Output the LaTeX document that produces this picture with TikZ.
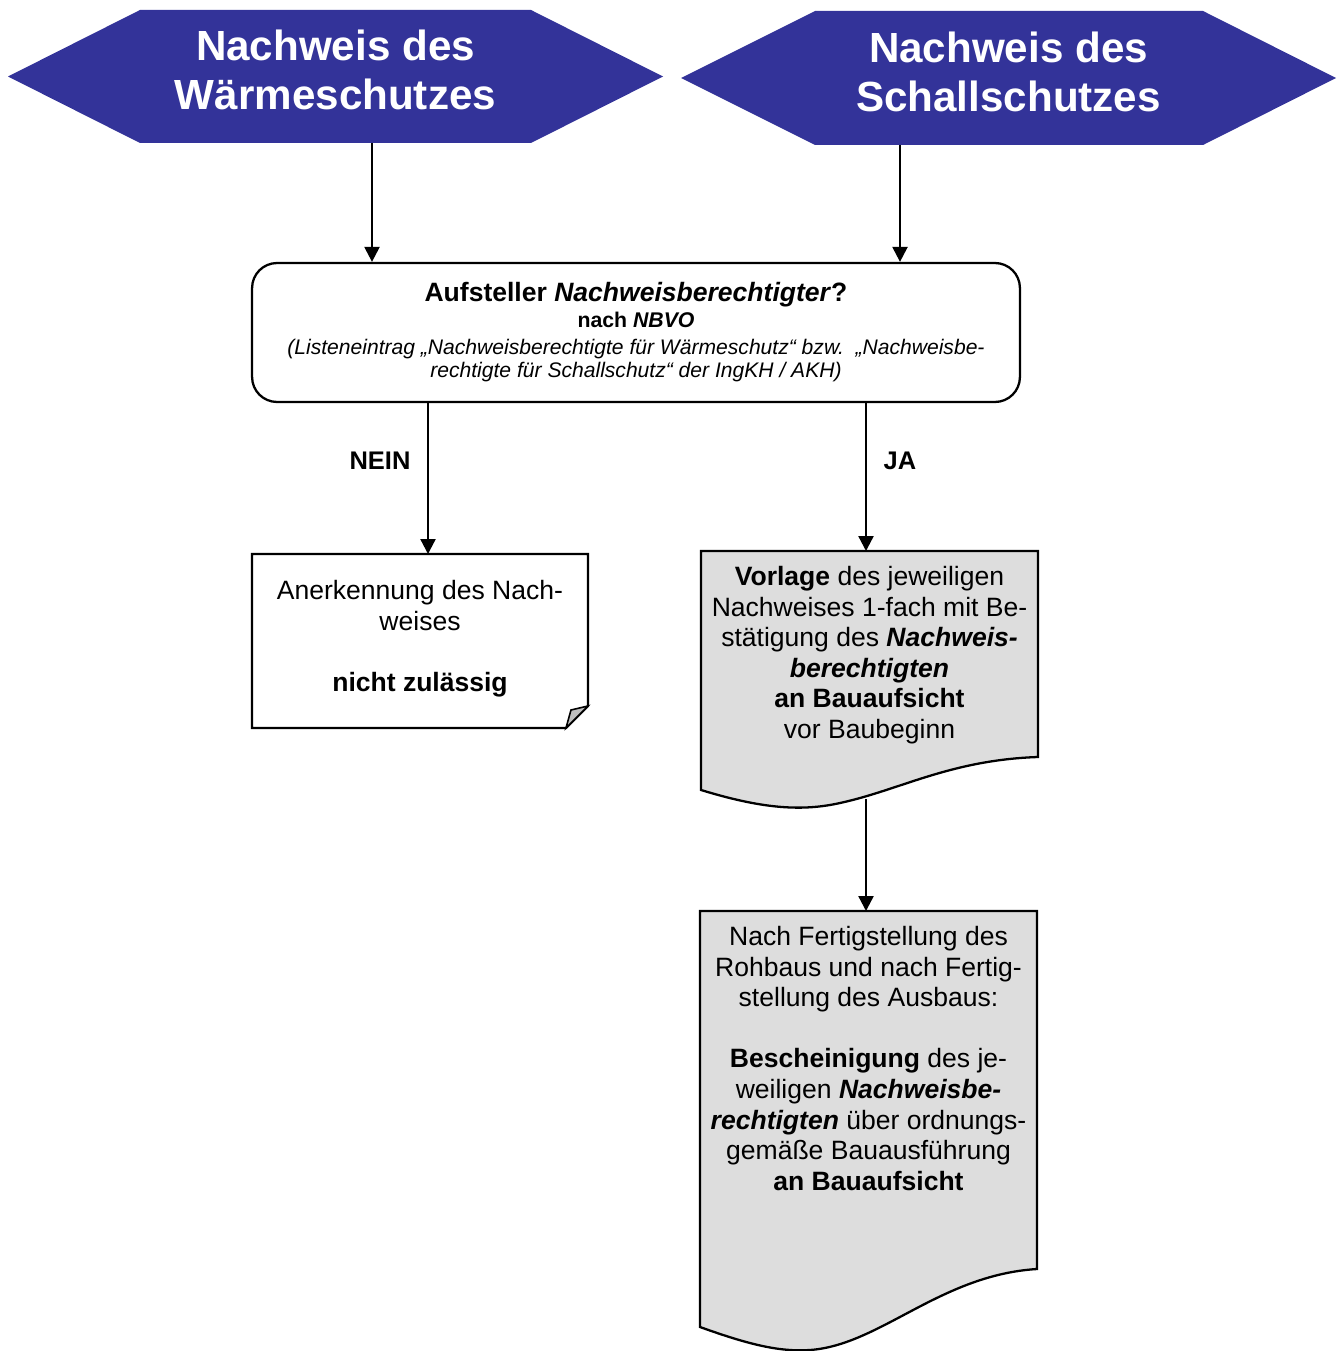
\documentclass[tikz,border=0pt]{standalone}
\usepackage{fontspec}
\setmainfont{Liberation Sans}
\usetikzlibrary{arrows.meta,backgrounds}
\definecolor{hexblue}{RGB}{51,51,153}
\definecolor{docgray}{RGB}{221,221,221}
\definecolor{foldgray}{RGB}{190,190,190}
\begin{document}
\begin{tikzpicture}[x=0.02cm,y=-0.02cm,
  line width=1.3pt,
  outline/.style={draw, line width=1.3pt},
  arr/.style={-{Triangle[length=0.3cm,width=0.3cm]}, line width=1.3pt},
  hextext/.style={text=white, font=\fontsize{24}{27.8}\selectfont\bfseries, align=center},
  boxtext/.style={font=\fontsize{15.1}{17.4}\selectfont, align=center, inner sep=0pt, outer sep=0pt},
  lbl/.style={font=\fontsize{14.5}{17}\selectfont\bfseries},
]
\useasboundingbox (0,0) rectangle (1337,1351);

% top hexagons
\node[hextext] (h1) at (335.5,70) {Nachweis des\\Wärmeschutzes};
\node[hextext] (h2) at (1008.5,72) {Nachweis des\\Schallschutzes};
\begin{scope}[on background layer]
  \fill[hexblue] (8,76.5) -- (140,10) -- (531,10) -- (663,76.5) -- (531,143) -- (140,143) -- cycle;
  \fill[hexblue] (681,78) -- (815,11) -- (1203,11) -- (1336,78) -- (1203,145) -- (815,145) -- cycle;
\end{scope}

% question box
\node[outline, rounded corners=0.5cm, minimum width=15.36cm, minimum height=2.78cm, fill=white,
      align=center, inner sep=0pt, font=\fontsize{12}{13.6}\selectfont] (q) at (636,332.5)
  {{\fontsize{15.1}{17}\selectfont\bfseries Aufsteller \textit{Nachweisberechtigter}?}\\[1pt]
   {\fontsize{12.1}{14}\selectfont\bfseries nach \textit{NBVO}}\\[1.5pt]
   \itshape (Listeneintrag „Nachweisberechtigte für Wärmeschutz“ bzw.\ \ „Nachweisbe-\\
   \itshape rechtigte für Schallschutz“ der IngKH / AKH)};

\coordinate (h1b) at (372,143);
\coordinate (h2b) at (900,145);
\draw[arr] (h1b) -- (q.north -| h1b);
\draw[arr] (h2b) -- (q.north -| h2b);

% NEIN box
\node[boxtext, minimum width=6.72cm, minimum height=3.48cm] (n) at (420,641) {};
\node[boxtext] (nt) at (420,639)
  {Anerkennung des Nach-\\weises\\[17.4pt]\textbf{nicht zulässig}};
\begin{scope}[on background layer]
  \draw[outline, fill=white] (n.north west) -- (n.north east) -- ([yshift=0.44cm]n.south east)
    -- ([xshift=-0.44cm]n.south east) -- (n.south west) -- cycle;
  \draw[fill=foldgray, line width=0.9pt] ([yshift=0.44cm]n.south east) -- ++(-17,4)
    -- ([xshift=-0.44cm]n.south east) -- cycle;
\end{scope}

% JA document box
\node[boxtext, minimum width=6.74cm, minimum height=4.06cm] (v) at (869.5,652.5) {};
\node[boxtext] (vt) at (869.5,655)
  {\textbf{Vorlage} des jeweiligen\\
   Nachweises 1-fach mit Be-\\
   stätigung des \textbf{\textit{Nachweis-}}\\
   \textbf{\textit{berechtigten}}\\
   \textbf{an Bauaufsicht}\\
   vor Baubeginn};
\begin{scope}[on background layer]
  \draw[outline, fill=docgray] (v.north west) -- (v.north east) -- (1038,757)
    .. controls (950,760) and (900,790) .. (840,803)
    .. controls (800,812) and (760,808) .. (701,790) -- cycle;
\end{scope}

% second document box
\node[boxtext, minimum width=6.74cm, minimum height=5.9cm] (f) at (868.5,1058.5) {};
\node[boxtext] (ft) at (868.5,1058.5)
  {Nach Fertigstellung des\\
   Rohbaus und nach Fertig-\\
   stellung des Ausbaus:\\[17.4pt]
   \textbf{Bescheinigung} des je-\\
   weiligen \textbf{\textit{Nachweisbe-}}\\
   \textbf{\textit{rechtigten}} über ordnungs-\\
   gemäße Bauausführung\\
   \textbf{an Bauaufsicht}};
\begin{scope}[on background layer]
  \draw[outline, fill=docgray] (f.north west) -- (f.north east) -- (1037,1269)
    .. controls (940,1275) and (880,1345) .. (810,1350)
    .. controls (780,1352) and (750,1345) .. (700,1327) -- cycle;
\end{scope}

% connectors
\coordinate (nx) at (428,0);
\coordinate (jx) at (866,0);
\coordinate (vw) at (866,799);
\draw[arr] (q.south -| nx) -- (n.north -| nx);
\draw[arr] (q.south -| jx) -- (v.north -| jx);
\draw[arr] (vw) -- (f.north -| vw);

\node[lbl] (ne) at (380,461) {NEIN};
\node[lbl] (ja) at (900,461) {JA};
\end{tikzpicture}
\end{document}
